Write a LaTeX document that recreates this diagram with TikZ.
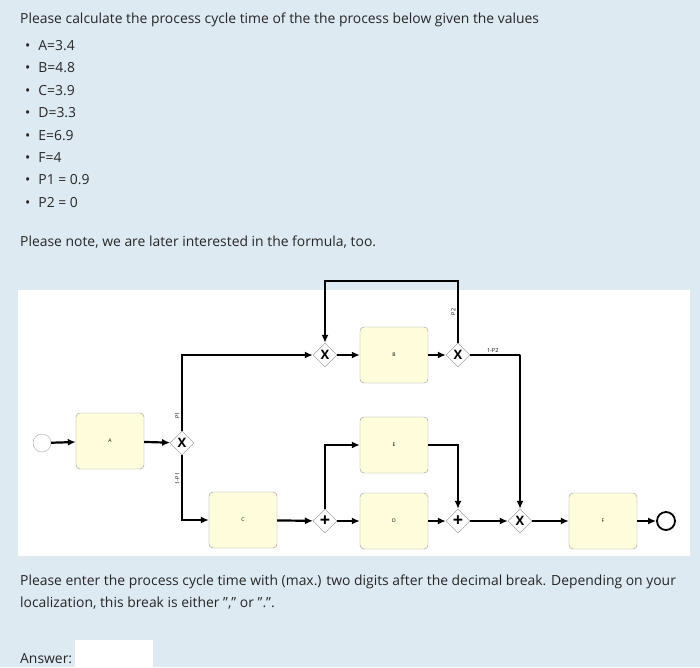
\documentclass[tikz,border=0pt]{standalone}
\usepackage{fontspec}
\setmainfont{Open Sans}
\usetikzlibrary{shapes.geometric,arrows.meta,positioning}
\definecolor{pagebg}{RGB}{222,234,241}

\begin{document}
\begin{tikzpicture}[
    x=1pt, y=-1pt,
    task/.style = {rectangle, draw=gray!80, fill=yellow!14, rounded corners=4pt, minimum width=68pt, minimum height=56pt, font=\fontsize{5}{6}\selectfont, inner sep=0pt},
    gate/.style = {diamond, draw=gray!90, fill=white, minimum size=24pt, inner sep=0pt, font=\bfseries\fontsize{13}{13}\selectfont},
    event/.style = {circle, draw=gray!70, fill=white, minimum size=18pt, inner sep=0pt},
    flow/.style = {-{Latex[length=8pt,width=7pt]}, line width=2.2pt},
    lbl/.style = {font=\fontsize{5.5}{6}\selectfont, inner sep=1.5pt},
    txt/.style = {anchor=base west, inner sep=0pt, font=\fontsize{13.9}{16}\selectfont, text=black!85}
]
    % page and diagram panel
    \fill[pagebg] (0,0) rectangle (700,667);
    \fill[white] (18,290) rectangle (690,556);

    % question text
    \node[txt] (title) at (20,23) {Please calculate the process cycle time of the the process below given the values};
    \foreach \val [count=\i] in {A=3.4, B=4.8, C=3.9, D=3.3, E=6.9, F=4, P1 = 0.9, P2 = 0} {
        \node[txt] (bul\i) at (25,{28+22.4*\i}) {\textbullet\hspace{8pt}\val};
    }
    \node[txt] (note) at (20,246) {Please note, we are later interested in the formula, too.};
    \node[txt] (ask1) at (20,585) {Please enter the process cycle time with (max.) two digits after the decimal break. Depending on your};
    \node[txt] (ask2) at (20,607) {localization, this break is either "," or ".".};
    \node[txt] (answer) at (20,663) {Answer:};
    \fill[white] (75,640) rectangle (153,667);

    % diagram
    \node[event] (start) at (42,443) {};
    \node[task] (A) at (110,441) {A};
    \node[gate] (x1) at (182,443) {X};
    \node[gate] (x2) at (325,355) {X};
    \node[task] (B) at (394,355) {B};
    \node[gate] (x3) at (458,355) {X};
    \node[task] (C) at (243,520) {C};
    \node[gate, font=\bfseries\fontsize{18}{18}\selectfont] (p1) at (325,521) {+};
    \node[task] (E) at (394,445) {E};
    \node[task] (D) at (394,521) {D};
    \node[gate, font=\bfseries\fontsize{18}{18}\selectfont] (p2) at (458,521) {+};
    \node[gate] (x5) at (520,521) {X};
    \node[task] (F) at (603,521) {F};
    \node[event, line width=1.8pt, draw=black] (end) at (666,521) {};

    \draw[flow] (start) -- (A);
    \draw[flow] (A) -- (x1);
    \draw[flow] (x1) |- node[lbl, rotate=90, pos=0.1, above] {P1} (x2);
    \draw[flow] (x1) |- node[lbl, rotate=90, pos=0.18, above] {1-P1} (C);
    \draw[flow] (x2) -- (B);
    \draw[flow] (B) -- (x3);
    \draw[flow] (x3.north) -- node[lbl, rotate=90, pos=0.5, above] {P2} ++(0,-62) -| (x2.north);
    \draw[flow] (x3.east) -- node[lbl, above, pos=0.45] {1-P2} ++(50,0) -| (x5.north);
    \draw[flow] (C) -- (p1);
    \draw[flow] (p1) -- (D);
    \draw[flow] (p1) |- (E);
    \draw[flow] (D) -- (p2);
    \draw[flow] (E) -| (p2);
    \draw[flow] (p2) -- (x5);
    \draw[flow] (x5) -- (F);
    \draw[flow] (F) -- (end);
\end{tikzpicture}
\end{document}
